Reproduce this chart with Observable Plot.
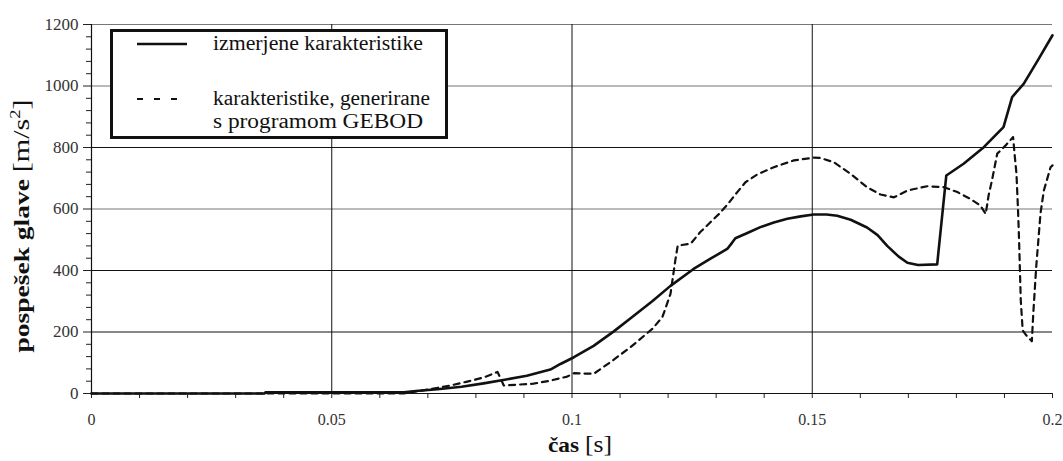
<!DOCTYPE html>
<html>
<head>
<meta charset="utf-8">
<script src="https://cdn.jsdelivr.net/npm/d3@7"></script>
<script src="https://cdn.jsdelivr.net/npm/@observablehq/plot@0.6"></script>
<style>
  html, body { margin: 0; padding: 0; background: #fff; }
  #wrap { position: relative; width: 1063px; height: 461px; }
  #legend { position: absolute; left: 110px; top: 29px; }
  svg text { font-family: "Liberation Serif", "Times New Roman", Tinos, Times, serif; }
</style>
</head>
<body>
<div id="wrap"></div>
<script>
// ---- data ----
const seriesNames = ["izmerjene karakteristike", "karakteristike, generirane", "s programom GEBOD"];

const solidT = [0, 0.036, 0.0362, 0.065, 0.0675, 0.072, 0.077, 0.0816, 0.086, 0.0906, 0.0955, 0.0976, 0.1004, 0.1045, 0.1087, 0.1122, 0.1167, 0.1205, 0.1253, 0.129, 0.1323, 0.1333, 0.134, 0.1365, 0.1392, 0.142, 0.1448, 0.1476, 0.1503, 0.153, 0.1552, 0.158, 0.1614, 0.1636, 0.1656, 0.168, 0.1698, 0.172, 0.176, 0.1779, 0.1815, 0.1857, 0.1898, 0.1916, 0.194, 0.197, 0.2];
const solidV = [0, 0, 4, 4, 8, 14, 22, 33, 45, 58, 78, 96, 118, 155, 202, 245, 300, 350, 405, 440, 470, 490, 505, 522, 541, 556, 568, 576, 582, 582, 578, 565, 540, 515, 480, 445, 425, 418, 420, 709, 747, 801, 866, 964, 1007, 1085, 1165];

const dashT = [0, 0.065, 0.069, 0.0747, 0.078, 0.0816, 0.0845, 0.0848, 0.0858, 0.092, 0.0955, 0.099, 0.1004, 0.1045, 0.108, 0.1122, 0.1167, 0.1188, 0.1205, 0.1215, 0.122, 0.1247, 0.1267, 0.1306, 0.1326, 0.1344, 0.1361, 0.1385, 0.142, 0.1462, 0.1503, 0.1517, 0.1545, 0.158, 0.1614, 0.1642, 0.167, 0.1698, 0.1739, 0.1774, 0.1802, 0.1829, 0.185, 0.1861, 0.1867, 0.1874, 0.1885, 0.1902, 0.1918, 0.1921, 0.1925, 0.1928, 0.193, 0.1932, 0.1934, 0.1938, 0.1945, 0.1957, 0.196, 0.1966, 0.1975, 0.1982, 0.1996, 0.2];
const dashV = [0, 0, 10, 26, 38, 52, 70, 60, 26, 32, 42, 55, 66, 64, 102, 151, 210, 248, 324, 433, 481, 487, 525, 584, 619, 655, 687, 712, 736, 758, 767, 766, 752, 714, 671, 647, 638, 660, 674, 671, 655, 633, 611, 584, 644, 693, 780, 806, 834, 780, 715, 606, 520, 411, 302, 205, 190, 170, 260, 410, 585, 660, 736, 742];

const xMajor = [0, 0.05, 0.1, 0.15, 0.2];
const xMinor = [0.01, 0.02, 0.03, 0.04, 0.06, 0.07, 0.08, 0.09, 0.11, 0.12, 0.13, 0.14, 0.16, 0.17, 0.18, 0.19];
const xLabels = ["0", "0.05", "0.1", "0.15", "0.2"];
const yMajor = [0, 200, 400, 600, 800, 1000, 1200];
const yLabels = ["0", "200", "400", "600", "800", "1000", "1200"];
const yMinor = [40, 80, 120, 160, 240, 280, 320, 360, 440, 480, 520, 560, 640, 680, 720, 760, 840, 880, 920, 960, 1040, 1080, 1120, 1160];
const darkGrid = [200, 400, 800];

const solid = solidT.map((t, i) => ({t, v: solidV[i]}));
const dashed = dashT.map((t, i) => ({t, v: dashV[i]}));

const FONT = '"Liberation Serif", "Times New Roman", Tinos, Times, serif';

const chart = Plot.plot({
  width: 1063,
  height: 461,
  marginLeft: 91,
  marginRight: 11,
  marginTop: 24,
  marginBottom: 68,
  style: {fontFamily: FONT, fontSize: "17px", color: "#111", background: "#fff"},
  x: {domain: [0, 0.2], label: null},
  y: {domain: [0, 1200], label: null},
  marks: [
    Plot.gridY(yMajor.filter(d => d > 0), {stroke: d => darkGrid.includes(d) ? "#111" : "#777", strokeOpacity: 1, strokeWidth: 1.2}),
    Plot.gridX(xMajor.filter(d => d > 0 && d < 0.2), {stroke: "#111", strokeOpacity: 1, strokeWidth: 1}),
    Plot.axisX(xMinor, {tickSize: 5, text: null, stroke: "#222"}),
    Plot.axisX(xMajor, {tickSize: 5, tickPadding: 15, tickFormat: (d, i) => xLabels[i], fontSize: 16, stroke: "#222", fill: "#333"}),
    Plot.axisY(yMinor, {tickSize: 5, text: null, stroke: "#222"}),
    Plot.axisY(yMajor, {tickSize: 8, tickPadding: 5, tickFormat: (d, i) => yLabels[i], fontSize: 17, stroke: "#222", fill: "#333"}),
    Plot.ruleY([0], {stroke: "#111", strokeWidth: 1.2}),
    Plot.ruleX([0], {stroke: "#111", strokeWidth: 1.2}),
    Plot.line(dashed, {x: "t", y: "v", stroke: "#111", strokeWidth: 2.2, strokeDasharray: "6,5"}),
    Plot.line(solid, {x: "t", y: "v", stroke: "#111", strokeWidth: 2.6, strokeLinejoin: "round"})
  ]
});

document.getElementById("wrap").appendChild(chart);

// axis titles
const svg = d3.select(chart);
const yt = svg.append("text")
  .attr("transform", "translate(29,226) rotate(-90)")
  .attr("text-anchor", "middle")
  .style("font-family", FONT)
  .attr("font-size", 21)
  .attr("fill", "#111")
  .attr("textLength", 253)
  .attr("lengthAdjust", "spacingAndGlyphs");
yt.append("tspan").attr("font-weight", "bold").text("pospešek glave ");
yt.append("tspan").attr("font-size", 23).text("[m/s");
yt.append("tspan").attr("font-size", 14).attr("dy", -9).text("2");
yt.append("tspan").attr("font-size", 23).attr("dy", 9).text("]");

const xt = svg.append("text")
  .attr("x", 580).attr("y", 452)
  .attr("text-anchor", "middle")
  .style("font-family", FONT)
  .attr("font-size", 21)
  .attr("fill", "#111")
  .attr("textLength", 64)
  .attr("lengthAdjust", "spacingAndGlyphs");
xt.append("tspan").attr("font-weight", "bold").text("čas ");
xt.append("tspan").attr("font-size", 23).text("[s]");

// legend (HTML overlay with an inline svg)
const lg = d3.select("#wrap").append("svg")
  .attr("id", "legend")
  .attr("width", 339).attr("height", 111);
lg.append("rect").attr("x", 1.5).attr("y", 1.5).attr("width", 335).attr("height", 107)
  .attr("fill", "#fff").attr("stroke", "#111").attr("stroke-width", 3);
lg.append("line").attr("x1", 27).attr("x2", 77).attr("y1", 15).attr("y2", 15)
  .attr("stroke", "#111").attr("stroke-width", 2.6);
lg.append("line").attr("x1", 27).attr("x2", 70).attr("y1", 70).attr("y2", 70)
  .attr("stroke", "#111").attr("stroke-width", 2).attr("stroke-dasharray", "6,11");
const legendText = [[seriesNames[0], 20.5, 210], [seriesNames[1], 75.5, 217], [seriesNames[2], 99, 210]];
legendText.forEach(([s, y, len]) => {
  lg.append("text").attr("x", 103).attr("y", y)
    .style("font-family", FONT).attr("font-size", 20)
    .attr("fill", "#111")
    .attr("textLength", len).attr("lengthAdjust", "spacingAndGlyphs")
    .text(s);
});
</script>
</body>
</html>
